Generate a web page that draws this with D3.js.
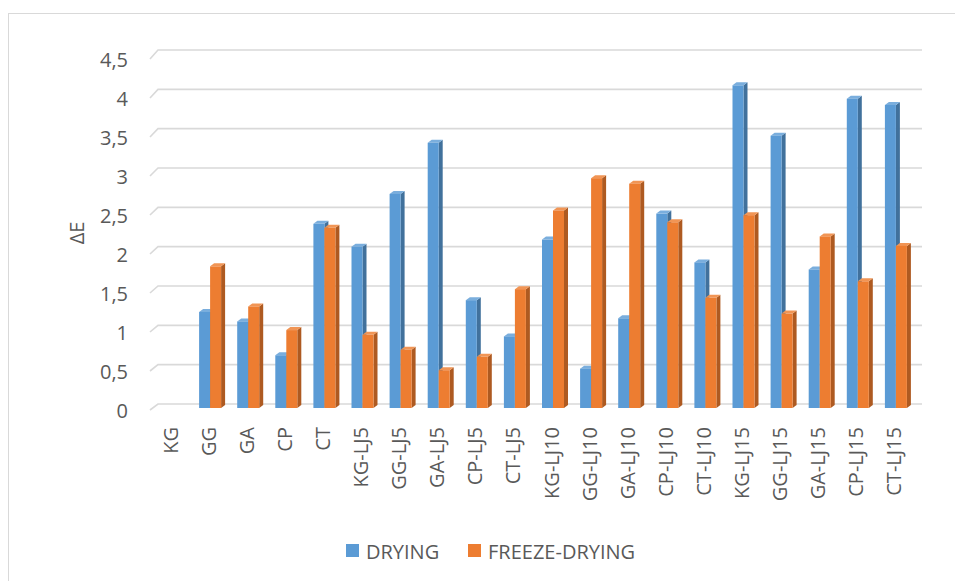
<!DOCTYPE html>
<html>
<head>
<meta charset="utf-8">
<script src="https://cdn.jsdelivr.net/npm/d3@7"></script>
<style>
  body { margin: 0; background: #fff; }
  text { font-family: "Open Sans", sans-serif; fill: #595959; }
</style>
</head>
<body>
<div class="container"></div>
<script>
var categories = ['KG','GG','GA','CP','CT','KG-LJ5','GG-LJ5','GA-LJ5','CP-LJ5','CT-LJ5',
  'KG-LJ10','GG-LJ10','GA-LJ10','CP-LJ10','CT-LJ10','KG-LJ15','GG-LJ15','GA-LJ15','CP-LJ15','CT-LJ15'];
var seriesNames = ['DRYING', 'FREEZE-DRYING'];
var drying = [null,1.22,1.10,0.67,2.34,2.05,2.72,3.37,1.37,0.91,2.14,0.50,1.14,2.47,1.85,4.10,3.46,1.76,3.93,3.85];
var freezeDrying = [null,1.80,1.29,0.99,2.29,0.93,0.74,0.48,0.65,1.51,2.51,2.92,2.85,2.36,1.40,2.45,1.20,2.18,1.61,2.06];
var yTicks = [0,0.5,1,1.5,2,2.5,3,3.5,4,4.5];

const WIDTH = 955;
const HEIGHT = 581;
var colors = {
  'DRYING': { front: '#5B9BD5', side: '#41719C', top: '#7AAEDD' },
  'FREEZE-DRYING': { front: '#ED7D31', side: '#AE5A21', top: '#F19555' }
};
var DX = 4, DY = -3; // bar depth

var svg = d3.select('.container').append('svg')
  .attr('width', WIDTH)
  .attr('height', HEIGHT);

// chart border
svg.append('rect')
  .attr('x', 8.5).attr('y', 13.5)
  .attr('width', 1000).attr('height', 700)
  .attr('fill', 'none')
  .attr('stroke', '#D9D9D9');

var xScale = d3.scaleBand().domain(categories).range([150, 150 + 20 * 38.1]);
var inner = d3.scaleBand().domain(seriesNames).range([11, 33]);
var yBack = d3.scaleLinear().domain([0, 4.5]).range([404, 50]);
var yFront = d3.scaleLinear().domain([0, 4.5]).range([410, 59]);
var yBar = d3.scaleLinear().domain([0, 4.5]).range([408, 408 - 4.5 * 78.7]);

// gridlines with perspective stub
var grid = svg.append('g');
yTicks.forEach(function(t) {
  grid.append('path')
    .attr('d', 'M150,' + yFront(t) + 'L158,' + yBack(t) + 'L922,' + yBack(t))
    .attr('fill', 'none')
    .attr('stroke', '#D9D9D9')
    .attr('stroke-width', 1.6);
});

// y axis labels
svg.append('g').selectAll('text')
  .data(yTicks).enter().append('text')
  .attr('x', 128)
  .attr('y', function(d) { return yFront(d); })
  .attr('text-anchor', 'end')
  .attr('dominant-baseline', 'central')
  .style('font-size', '20px')
  .text(function(d) { return String(d).replace('.', ','); });

svg.append('text')
  .attr('transform', 'translate(76,233) rotate(-90)')
  .attr('text-anchor', 'middle')
  .attr('dominant-baseline', 'central')
  .style('font-size', '20px')
  .text('ΔE');

// bars
var seriesData = { 'DRYING': drying, 'FREEZE-DRYING': freezeDrying };
var barsG = svg.append('g');
categories.forEach(function(c, i) {
  seriesNames.forEach(function(s) {
    var v = seriesData[s][i];
    if (v == null) return;
    var x = xScale(c) + inner(s);
    var w = inner.bandwidth();
    var y = yBar(v), yb = yBar(0);
    var col = colors[s];
    barsG.append('polygon')
      .attr('points', [[x + w, y], [x + w + DX, y + DY], [x + w + DX, yb + DY], [x + w, yb]].join(' '))
      .attr('fill', col.side);
    barsG.append('polygon')
      .attr('points', [[x, y], [x + DX, y + DY], [x + w + DX, y + DY], [x + w, y]].join(' '))
      .attr('fill', col.top);
    barsG.append('rect')
      .attr('x', x).attr('y', y)
      .attr('width', w).attr('height', yb - y)
      .attr('fill', col.front);
  });
});

// category labels
svg.append('g').selectAll('text')
  .data(categories).enter().append('text')
  .attr('transform', function(d) {
    return 'translate(' + (xScale(d) + xScale.bandwidth() / 2 + 1) + ',427) rotate(-90)';
  })
  .attr('text-anchor', 'end')
  .attr('dominant-baseline', 'central')
  .style('font-size', '20px')
  .text(function(d) { return d; });

// legend
var legendX = [346, 468];
var legend = svg.append('g');
seriesNames.forEach(function(s, i) {
  legend.append('rect')
    .attr('x', legendX[i]).attr('y', 544)
    .attr('width', 13).attr('height', 13)
    .attr('fill', colors[s].front);
  legend.append('text')
    .attr('x', legendX[i] + 20).attr('y', 551)
    .attr('dominant-baseline', 'central')
    .style('font-size', '20px')
    .text(s);
});
</script>
</body>
</html>
